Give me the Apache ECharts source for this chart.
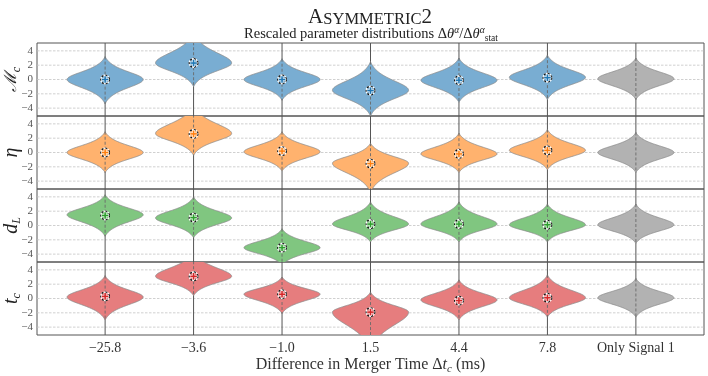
<!DOCTYPE html>
<html>
<head>
<meta charset="utf-8">
<script src="https://cdn.jsdelivr.net/npm/echarts@6/dist/echarts.min.js"></script>
<style>
  html, body { margin: 0; padding: 0; background: #fff; }
  #chart { width: 708px; height: 376px; }
</style>
</head>
<body>
<div id="chart"></div>
<script>
// categories on the x axis
const categories = ['\u221225.8', '\u22123.6', '\u22121.0', '1.5', '4.4', '7.8', 'Only Signal 1'];
const yTicks = [-4, -2, 0, 2, 4];

// chirp mass row: mode, upper tip, lower tip, true value
const mcMode   = [0.0, 2.3, 0.0, -1.5, -0.1, 0.3, 0.1];
const mcTop    = [3.2, 6.6, 2.9, 2.5, 3.0, 3.4, 3.0];
const mcBottom = [-3.4, -1.0, -2.9, -5.1, -3.2, -2.8, -2.8];
const mcTruth  = [0.0, 2.3, 0.0, -1.55, -0.1, 0.25, null];

// eta row
const etaMode   = [0.0, 2.65, 0.1, -1.5, -0.2, 0.3, 0.0];
const etaTop    = [2.9, 6.7, 2.9, 1.3, 2.7, 3.2, 2.8];
const etaBottom = [-2.8, -0.4, -2.6, -5.6, -2.8, -2.4, -2.8];
const etaTruth  = [0.0, 2.6, 0.2, -1.55, -0.2, 0.3, null];

// luminosity distance row
const dlMode   = [1.5, 1.05, -3.1, 0.2, 0.2, 0.1, 0.1];
const dlTop    = [4.3, 4.0, -0.45, 3.3, 3.3, 3.0, 3.0];
const dlBottom = [-1.5, -1.7, -5.6, -2.3, -2.3, -2.3, -2.5];
const dlTruth  = [1.4, 1.1, -3.1, 0.2, 0.2, 0.1, null];

// coalescence time row
const tcMode   = [0.2, 3.1, 0.6, -1.9, -0.2, 0.1, 0.1];
const tcTop    = [3.2, 6.6, 3.0, 0.9, 2.6, 3.3, 2.8];
const tcBottom = [-3.0, 0.4, -2.1, -7.4, -3.0, -2.6, -2.6];
const tcTruth  = [0.3, 3.1, 0.6, -1.9, -0.3, 0.1, null];

const rows = [
  { label: '{m|\u2133}{sub|c}', line: '#1f77b4', fill: '#79add2', mode: mcMode, top: mcTop, bottom: mcBottom, truth: mcTruth },
  { label: '{i|\u03b7}', line: '#ff7f0e', fill: '#ffb26e', mode: etaMode, top: etaTop, bottom: etaBottom, truth: etaTruth },
  { label: '{i|d}{sub|L}', line: '#2ca02c', fill: '#80c680', mode: dlMode, top: dlTop, bottom: dlBottom, truth: dlTruth },
  { label: '{i|t}{sub|c}', line: '#d62728', fill: '#e67d7e', mode: tcMode, top: tcTop, bottom: tcBottom, truth: tcTruth }
];
const grayFill = '#b2b2b2';

const FONT = "'Liberation Serif', 'DejaVu Serif', serif";
const X_MIN = -0.77, X_MAX = 6.77, Y_MIN = -5.1, Y_MAX = 5.1;
const HALF_W = 0.43;
const rowTops = [43, 116, 189, 262];
const rowH = 73;

const chart = echarts.init(document.getElementById('chart'));

function profile(d, D) {
  const s = D / 1.45;
  const f = x => Math.pow(1 + (x / s) * (x / s), -2);
  const fd = f(D);
  return Math.max(0, (f(d) - fd) / (1 - fd));
}

function makeViolin(rowIdx) {
  const row = rows[rowIdx];
  return function (params, api) {
    const cat = api.value(0), mode = api.value(1), top = api.value(2), bot = api.value(3), truth = api.value(4);
    const cs = params.coordSys;
    const fill = cat === 6 ? grayFill : row.fill;
    const ys = [], ws = [];
    const N = 70;
    for (let i = 0; i <= N; i++) { const y = top - (top - mode) * i / N; ys.push(y); ws.push(profile(y - mode, top - mode)); }
    for (let i = 1; i <= N; i++) { const y = mode - (mode - bot) * i / N; ys.push(y); ws.push(profile(mode - y, mode - bot)); }
    const pts = [];
    for (let i = 0; i < ys.length; i++) pts.push(api.coord([cat + HALF_W * ws[i], ys[i]]));
    for (let i = ys.length - 1; i >= 0; i--) pts.push(api.coord([cat - HALF_W * ws[i], ys[i]]));

    const c0 = api.coord([cat, Y_MAX]), c1 = api.coord([cat, Y_MIN]);
    const t0 = api.coord([cat, top]), t1 = api.coord([cat, bot]);
    const children = [
      { type: 'line', shape: { x1: c0[0], y1: c0[1], x2: c1[0], y2: c1[1] }, style: { stroke: '#555', lineWidth: 1 } },
      { type: 'polygon', shape: { points: pts }, style: { fill: fill, stroke: '#8c8c8c', lineWidth: 0.8 } },
      { type: 'line', shape: { x1: t0[0], y1: t0[1], x2: t1[0], y2: t1[1] }, style: { stroke: '#6a6a6a', lineWidth: 0.9, lineDash: [3, 2] } }
    ];
    if (truth != null && !isNaN(truth)) {
      const p = api.coord([cat, truth]);
      children.push(
        { type: 'circle', shape: { cx: p[0], cy: p[1], r: 4.3 }, style: { fill: 'none', stroke: '#fff', lineWidth: 1.3 } },
        { type: 'circle', shape: { cx: p[0], cy: p[1], r: 4.3 }, style: { fill: 'none', stroke: '#111', lineWidth: 1.3, lineDash: [2, 2] } },
        { type: 'line', shape: { x1: p[0] - 3.8, y1: p[1], x2: p[0] + 3.8, y2: p[1] }, style: { stroke: '#fff', lineWidth: 2.6 } },
        { type: 'line', shape: { x1: p[0], y1: p[1] - 3.8, x2: p[0], y2: p[1] + 3.8 }, style: { stroke: '#fff', lineWidth: 2.6 } },
        { type: 'line', shape: { x1: p[0] - 3.3, y1: p[1], x2: p[0] + 3.3, y2: p[1] }, style: { stroke: row.line, lineWidth: 1.6 } },
        { type: 'line', shape: { x1: p[0], y1: p[1] - 3.3, x2: p[0], y2: p[1] + 3.3 }, style: { stroke: row.line, lineWidth: 1.6 } }
      );
    }
    return {
      type: 'group',
      clipPath: { type: 'rect', shape: { x: cs.x, y: cs.y, width: cs.width, height: cs.height } },
      children: children
    };
  };
}

function renderGridLine(params, api) {
  const v = api.value(0);
  const a = api.coord([X_MIN, v]), b = api.coord([X_MAX, v]);
  return { type: 'line', shape: { x1: a[0], y1: a[1], x2: b[0], y2: b[1] }, style: { stroke: '#c4c4c4', lineWidth: 0.8, lineDash: [2.5, 1.5] } };
}

const grids = [], xAxes = [], yAxes = [], series = [];
rows.forEach((row, r) => {
  grids.push({
    left: 37, right: 4, top: rowTops[r], height: rowH,
    containLabel: false, outerBoundsMode: 'none',
    show: true, borderColor: '#555', borderWidth: 1, backgroundColor: 'transparent'
  });
  const last = r === rows.length - 1;
  xAxes.push({
    gridIndex: r, type: 'value', min: X_MIN, max: X_MAX,
    axisLine: { show: false }, axisTick: { show: false }, splitLine: { show: false },
    axisLabel: {
      show: last, customValues: [0, 1, 2, 3, 4, 5, 6], margin: 6,
      formatter: v => categories[Math.round(v)], color: '#333', fontFamily: FONT, fontSize: 14
    },
    name: last ? '{n|Difference in Merger Time \u0394}{i|t}{sub|c}{n| (ms)}' : '',
    nameLocation: 'middle', nameGap: 20, nameMoveOverlap: false,
    nameTextStyle: {
      rich: {
        n: { fontFamily: FONT, fontSize: 16, color: '#333', lineHeight: 20 },
        i: { fontFamily: FONT, fontSize: 16, fontStyle: 'italic', color: '#333', lineHeight: 20 },
        sub: { fontFamily: FONT, fontSize: 11, fontStyle: 'italic', color: '#333', lineHeight: 11, verticalAlign: 'bottom' }
      }
    }
  });
  yAxes.push({
    gridIndex: r, type: 'value', min: Y_MIN, max: Y_MAX,
    axisLine: { show: false }, axisTick: { show: false }, splitLine: { show: false },
    axisLabel: {
      customValues: yTicks, margin: 4, color: '#555', fontFamily: FONT, fontSize: 11,
      formatter: v => (v < 0 ? '\u2212' + (-v) : String(v))
    },
    name: row.label, nameLocation: 'middle', nameRotate: 90, nameGap: 14, nameMoveOverlap: false,
    nameTextStyle: {
      rich: {
        m: { fontFamily: "'DejaVu Serif', serif", fontSize: 17, fontStyle: 'italic', color: '#222', lineHeight: 22 },
        i: { fontFamily: FONT, fontSize: 20, fontStyle: 'italic', color: '#222', lineHeight: 22 },
        sub: { fontFamily: FONT, fontSize: 12, fontStyle: 'italic', color: '#222', lineHeight: 12, verticalAlign: 'bottom' }
      }
    }
  });
  series.push({
    type: 'custom', xAxisIndex: r, yAxisIndex: r, z: 1, silent: true,
    data: yTicks.map(v => [v]), encode: { y: 0 },
    renderItem: renderGridLine
  });
  series.push({
    type: 'custom', xAxisIndex: r, yAxisIndex: r, z: 2, silent: true,
    data: categories.map((c, i) => [i, row.mode[i], row.top[i], row.bottom[i], row.truth[i] == null ? '-' : row.truth[i]]),
    encode: { x: 0, y: 1 },
    renderItem: makeViolin(r)
  });
});

chart.setOption({
  animation: false,
  backgroundColor: '#fff',
  grid: grids,
  xAxis: xAxes,
  yAxis: yAxes,
  series: series,
  graphic: [
    {
      type: 'text', x: 370, y: 6,
      style: {
        text: '{a|A}{b|SYMMETRIC}{a|2}', align: 'center',
        rich: {
          a: { fontFamily: FONT, fontSize: 21, fill: '#222', lineHeight: 22 },
          b: { fontFamily: FONT, fontSize: 16.5, fill: '#222', lineHeight: 22, verticalAlign: 'bottom' }
        }
      }
    },
    {
      type: 'text', x: 371, y: 25,
      style: {
        text: '{n|Rescaled parameter distributions \u0394}{i|\u03b8}{sup|\u03b1}{n|/\u0394}{i|\u03b8}{sup|\u03b1}{sub|stat}', align: 'center',
        rich: {
          n: { fontFamily: FONT, fontSize: 14.5, fill: '#222', lineHeight: 18 },
          i: { fontFamily: FONT, fontSize: 14.5, fontStyle: 'italic', fill: '#222', lineHeight: 18 },
          sup: { fontFamily: FONT, fontSize: 9.5, fontStyle: 'italic', fill: '#222', lineHeight: 9, verticalAlign: 'top' },
          sub: { fontFamily: FONT, fontSize: 9.5, fill: '#222', lineHeight: 9, verticalAlign: 'bottom' }
        }
      }
    }
  ]
});
</script>
</body>
</html>
